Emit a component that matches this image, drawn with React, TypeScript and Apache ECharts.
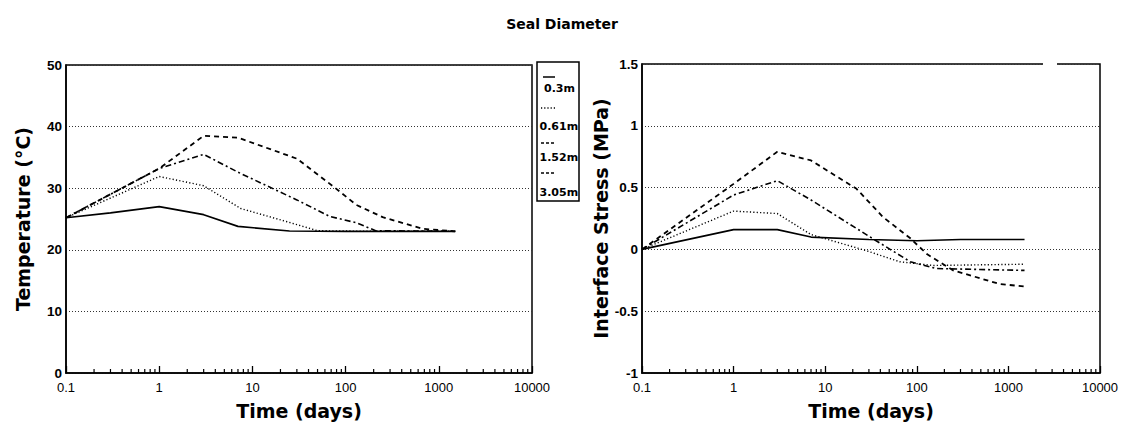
import React, { useEffect, useRef } from 'react';
import * as echarts from 'echarts';

// ---- Data ----
const seriesNames = ['0.3m', '0.61m', '1.52m', '3.05m'];
const xTickLabels = ['0.1', '1', '10', '100', '1000', '10000'];

// Temperature (°C) vs time (days)
const temp03 = [[0.1, 25.2], [0.3, 26], [1, 27], [3, 25.7], [7, 23.8], [25, 23.05], [100, 23], [1500, 23]];
const temp061 = [[0.1, 25.2], [1, 31.9], [3, 30.4], [7.5, 26.7], [23, 24.6], [50, 23.1], [200, 23], [1500, 23]];
const temp152 = [[0.1, 25.2], [1, 33.2], [3, 35.5], [7, 32.6], [30, 28.1], [68, 25.4], [130, 24.4], [210, 23.1], [1500, 23]];
const temp305 = [[0.1, 25.2], [1, 33.2], [3, 38.5], [7, 38.2], [30, 34.8], [75, 30.2], [130, 27.3], [250, 25.3], [680, 23.4], [1500, 23]];

// Interface stress (MPa) vs time (days)
const stress03 = [[0.1, 0], [1, 0.16], [3, 0.16], [7, 0.1], [30, 0.08], [100, 0.07], [300, 0.08], [1500, 0.08]];
const stress061 = [[0.1, 0], [1, 0.31], [3, 0.29], [7, 0.12], [28, -0.01], [65, -0.1], [150, -0.13], [1500, -0.12]];
const stress152 = [[0.1, 0], [1, 0.44], [3, 0.556], [7, 0.4], [36, 0.07], [85, -0.1], [165, -0.155], [1500, -0.17]];
const stress305 = [[0.1, 0], [1, 0.53], [3, 0.79], [7, 0.72], [22, 0.49], [43, 0.26], [85, 0.09], [130, -0.04], [250, -0.17], [800, -0.28], [1500, -0.3]];

const tempData = [temp03, temp061, temp152, temp305];
const stressData = [stress03, stress061, stress152, stress305];

// minor tick positions on the log time axis (2..9 in each decade)
const decades = [0.1, 1, 10, 100, 1000];
const minorMultipliers = [2, 3, 4, 5, 6, 7, 8, 9];

const dashes: any[] = ['solid', [1.2, 2.2], [6, 3, 2, 3], [5, 4]];
const widths = [1.7, 1.4, 1.6, 1.8];

export default function App() {
  const ref = useRef<HTMLDivElement>(null);
  useEffect(() => {
    if (!ref.current) return;
    const chart = echarts.init(ref.current, undefined, { renderer: 'svg' });
    const minorTicks: number[] = [];
    decades.forEach((d) => minorMultipliers.forEach((m) => minorTicks.push(+(d * m).toPrecision(3))));

    const nameStyle = { fontFamily: 'DejaVu Sans', fontWeight: 'bold', fontSize: 19, color: '#000' };
    const makeX = (gi: number) => ({
      type: 'log',
      gridIndex: gi,
      logBase: 10,
      min: 0.1,
      max: 10000,
      axisLine: { show: true, onZero: false, lineStyle: { color: '#000', width: 1.5 } },
      axisTick: { show: true, inside: true, length: 7, lineStyle: { color: '#000', width: 1.3 } },
      axisLabel: {
        color: '#000',
        fontSize: 13,
        fontFamily: 'Liberation Sans',
        margin: 8,
        formatter: (v: number) => xTickLabels[Math.round(Math.log10(v)) + 1],
      },
      splitLine: { show: false },
      name: 'Time (days)',
      nameLocation: 'middle',
      nameGap: 28,
      nameTextStyle: nameStyle,
    });
    const makeY = (gi: number, min: number, max: number, interval: number, name: string, gap: number) => ({
      type: 'value',
      gridIndex: gi,
      min,
      max,
      interval,
      axisLine: { show: true, onZero: false, lineStyle: { color: '#000', width: 1.5 } },
      axisTick: { show: false },
      axisLabel: { color: '#000', fontSize: 13.5, fontWeight: 'bold', fontFamily: 'Liberation Sans', margin: 4 },
      splitLine: { show: true, lineStyle: { type: [1, 2], color: '#333', width: 1 } },
      name,
      nameLocation: 'middle',
      nameGap: gap,
      nameTextStyle: nameStyle,
    });

    const lineSeries = (data: number[][][], gi: number) =>
      data.map((d, i) => ({
        type: 'line',
        name: seriesNames[i],
        xAxisIndex: gi,
        yAxisIndex: gi,
        data: d,
        symbol: 'none',
        showSymbol: false,
        color: '#000',
        lineStyle: { color: '#000', width: widths[i], type: dashes[i] },
        z: 5,
      }));

    const minorSeries = (gi: number, ymin: number) => ({
      type: 'custom',
      xAxisIndex: gi,
      yAxisIndex: gi,
      silent: true,
      clip: false,
      data: minorTicks.map((t) => [t, ymin]),
      renderItem: (params: any, api: any) => {
        const p = api.coord([api.value(0), api.value(1)]);
        return {
          type: 'line',
          shape: { x1: p[0], y1: p[1], x2: p[0], y2: p[1] - 4 },
          style: { stroke: '#000', lineWidth: 1.2 },
        };
      },
    });

    const legendLineY = [77, 108, 143, 173];
    const legendTextY = [88, 126, 157, 192];
    const legendEls: any[] = [
      { type: 'rect', shape: { x: 537, y: 62, width: 42, height: 139 }, style: { fill: '#fff', stroke: '#000', lineWidth: 1.5 } },
    ];
    seriesNames.forEach((n, i) => {
      legendEls.push({
        type: 'line',
        shape: { x1: i === 0 ? 543 : 541, y1: legendLineY[i], x2: 555, y2: legendLineY[i] },
        style: { stroke: '#000', lineWidth: i === 0 ? 1.5 : 1.3, lineDash: i === 0 ? null : i === 1 ? [1.2, 2] : [3, 2] },
      });
      legendEls.push({
        type: 'text',
        style: {
          text: n,
          x: i === 0 ? 544 : 539.5,
          y: legendTextY[i],
          fill: '#000',
          fontFamily: 'DejaVu Sans',
          fontWeight: 'bold',
          fontSize: 11,
          align: 'left',
          verticalAlign: 'middle',
        },
      });
    });

    const option: any = {
      animation: false,
      backgroundColor: '#fff',
      title: {
        text: 'Seal Diameter',
        left: 'center',
        top: 12,
        textStyle: { fontFamily: 'DejaVu Sans', fontWeight: 'bold', fontSize: 14, color: '#000' },
      },
      grid: [
        { left: 66, right: 592, top: 65, bottom: 59, show: true, borderColor: '#000', borderWidth: 1.5 },
        { left: 642, right: 24, top: 64, bottom: 59, show: true, borderColor: '#000', borderWidth: 1.5 },
      ],
      xAxis: [makeX(0), makeX(1)],
      yAxis: [
        makeY(0, 0, 50, 10, 'Temperature (°C)', 34),
        makeY(1, -1, 1.5, 0.5, 'Interface Stress (MPa)', 29),
      ],
      series: [
        ...lineSeries(tempData, 0),
        ...lineSeries(stressData, 1),
        minorSeries(0, 0),
        minorSeries(1, -1),
      ],
      graphic: [
        ...legendEls,
        { type: 'rect', shape: { x: 1043, y: 60, width: 14, height: 7 }, style: { fill: '#fff' }, z: 100 },
      ],
    };
    chart.setOption(option);
    return () => chart.dispose();
  }, []);
  return (
    <div
      ref={ref}
      style={{ position: 'fixed', left: 0, top: 0, width: 1124, height: 432, background: '#fff' }}
    />
  );
}
